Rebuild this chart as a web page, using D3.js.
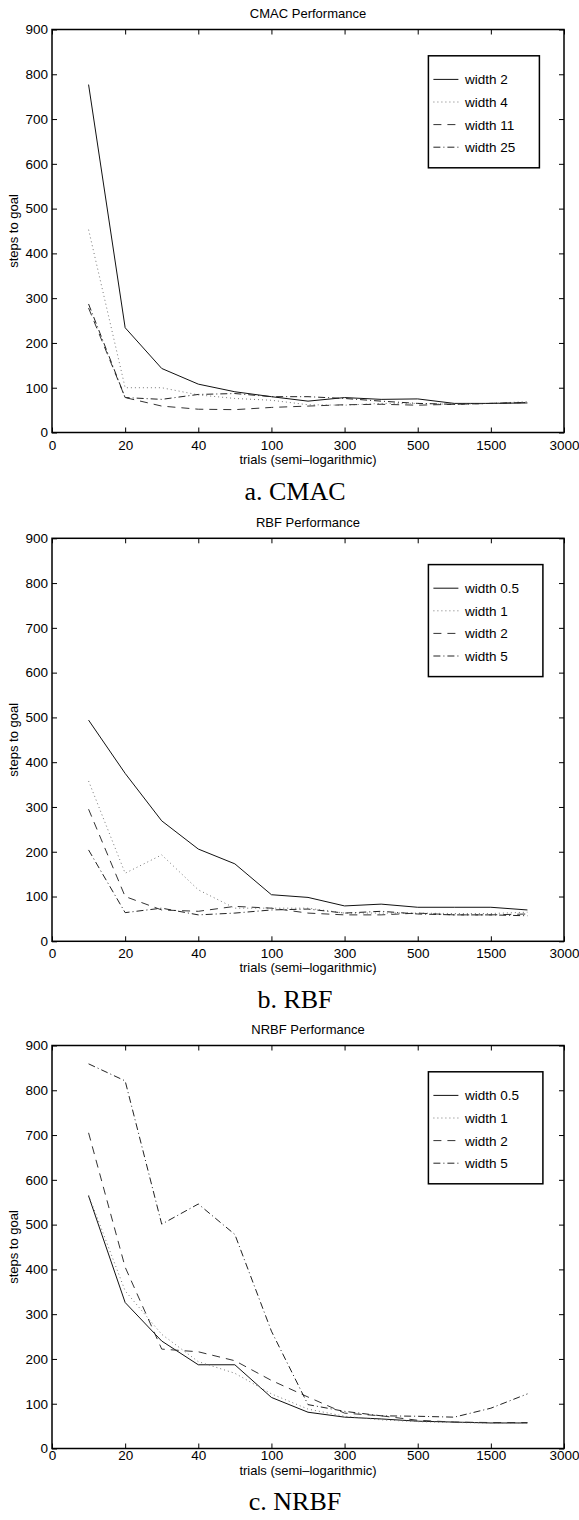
<!DOCTYPE html>
<html lang="en">
<head>
    <meta charset="UTF-8">
    <title>CMAC / RBF / NRBF Performance</title>
    <script src="https://d3js.org/d3.v7.min.js"></script>
    <style>
        body{
            margin: 0;
            background: #ffffff;
        }
        .tick text{
            font-family: "Liberation Sans", Arial, sans-serif;
            font-size: 13.5px;
            fill: #000;
        }
        .tick line{
            stroke: #000;
        }
        .lbl{
            font-family: "Liberation Sans", Arial, sans-serif;
            font-size: 13px;
        }
        .caption{
            font-family: "Liberation Serif", "Times New Roman", serif;
            font-size: 26px;
        }
    </style>
</head>
<body>
    <svg id='fig' width="579" height="1520"></svg>

    <script>
        // trial counts where the curves were sampled (semi-log axis, evenly spaced)
        let trials = [10, 20, 30, 40, 50, 100, 200, 300, 400, 500, 1000, 1500, 2000];
        let tickLabels = ["0", "20", "40", "100", "300", "500", "1500", "3000"];
        let yTicks = [0, 100, 200, 300, 400, 500, 600, 700, 800, 900];

        // CMAC
        let cmacNames = ["width 2", "width 4", "width 11", "width 25"];
        let cmac_w2  = [777, 234, 143, 108, 91, 80, 70, 78, 74, 75, 65, 65, 66];
        let cmac_w4  = [453, 100, 100, 84, 76, 72, 62, 61, 65, 65, 63, 65, 69];
        let cmac_w11 = [278, 78, 59, 52, 51, 56, 59, 62, 63, 61, 63, 65, 67];
        let cmac_w25 = [287, 78, 74, 85, 87, 80, 80, 76, 70, 65, 63, 65, 67];

        // RBF
        let rbfNames = ["width 0.5", "width 1", "width 2", "width 5"];
        let rbf_w05 = [494, 375, 269, 206, 173, 104, 98, 79, 83, 76, 76, 76, 70];
        let rbf_w1  = [358, 152, 193, 115, 74, 74, 74, 63, 63, 63, 62, 62, 65];
        let rbf_w2  = [295, 100, 70, 67, 78, 74, 63, 59, 59, 63, 59, 59, 61];
        let rbf_w5  = [204, 64, 74, 59, 63, 70, 72, 63, 67, 61, 59, 59, 57];

        // NRBF
        let nrbfNames = ["width 0.5", "width 1", "width 2", "width 5"];
        let nrbf_w05 = [564, 326, 240, 187, 187, 114, 81, 70, 66, 61, 59, 57, 57];
        let nrbf_w1  = [566, 352, 255, 194, 168, 122, 88, 72, 64, 60, 58, 57, 57];
        let nrbf_w2  = [705, 405, 222, 216, 196, 152, 115, 79, 73, 63, 59, 58, 58];
        let nrbf_w5  = [859, 821, 501, 546, 478, 262, 98, 83, 73, 72, 70, 90, 122];

        let styles = [
            {stroke: "#111", dash: null, width: 1},
            {stroke: "#777", dash: "1,3", width: 1},
            {stroke: "#333", dash: "8,6", width: 1},
            {stroke: "#222", dash: "7,3,1,3", width: 1}
        ];

        let svg = d3.select("#fig");

        let left = 52, right = 564, plotH = 403;

        // opt: tick label padding, x label offset, caption offset (below the axis)
        function panel(top, title, names, series, caption, legendW, opt){
            let g = svg.append("g");

            let x = d3.scaleLinear().domain([0, 14]).range([left, right]);
            let y = d3.scaleLinear().domain([0, 900]).range([top + plotH, top]);

            // title
            g.append("text")
                .attr("class", "lbl")
                .attr("x", (left + right) / 2)
                .attr("y", top - 11.5)
                .attr("text-anchor", "middle")
                .text(title);

            // axes with inward ticks (matlab style)
            let xTickVals = d3.range(0, 15, 2);
            g.append("g")
                .attr("transform", "translate(0," + (top + plotH) + ")")
                .call(d3.axisBottom(x).tickValues(xTickVals)
                    .tickFormat(function(d, i){ return tickLabels[i]; })
                    .tickSizeInner(-5).tickSizeOuter(0).tickPadding(opt.pad))
                .call(function(a){ a.select(".domain").remove(); });
            g.append("g")
                .attr("transform", "translate(0," + top + ")")
                .call(d3.axisTop(x).tickValues(xTickVals)
                    .tickFormat("").tickSizeInner(-5).tickSizeOuter(0))
                .call(function(a){ a.select(".domain").remove(); });
            g.append("g")
                .attr("transform", "translate(" + left + ",0)")
                .call(d3.axisLeft(y).tickValues(yTicks)
                    .tickSizeInner(-5).tickSizeOuter(0).tickPadding(4))
                .call(function(a){ a.select(".domain").remove(); });
            g.append("g")
                .attr("transform", "translate(" + right + ",0)")
                .call(d3.axisRight(y).tickValues(yTicks)
                    .tickFormat("").tickSizeInner(-5).tickSizeOuter(0))
                .call(function(a){ a.select(".domain").remove(); });

            // box
            g.append("rect")
                .attr("x", left)
                .attr("y", top)
                .attr("width", right - left)
                .attr("height", plotH)
                .attr("fill", "none")
                .attr("stroke", "#000")
                .attr("stroke-width", 1.5);

            // curves
            let line = d3.line()
                .x(function(d, i){ return x(i + 1); })
                .y(function(d){ return y(d); });
            series.forEach(function(s, k){
                g.append("path")
                    .datum(s)
                    .attr("d", line)
                    .attr("fill", "none")
                    .attr("stroke", styles[k].stroke)
                    .attr("stroke-width", styles[k].width)
                    .attr("stroke-dasharray", styles[k].dash);
            });

            // legend
            let lx = 428.4, ly = top + 26.3;
            g.append("rect")
                .attr("x", lx)
                .attr("y", ly)
                .attr("width", legendW)
                .attr("height", 112)
                .attr("fill", "#fff")
                .attr("stroke", "#000")
                .attr("stroke-width", 1.5);
            names.forEach(function(n, k){
                let yy = ly + 23.6 + k * 22.6;
                g.append("line")
                    .attr("x1", lx + 5)
                    .attr("x2", lx + 30)
                    .attr("y1", yy)
                    .attr("y2", yy)
                    .attr("stroke", styles[k].stroke)
                    .attr("stroke-width", styles[k].width)
                    .attr("stroke-dasharray", styles[k].dash);
                g.append("text")
                    .attr("class", "lbl")
                    .attr("x", lx + 36.5)
                    .attr("y", yy + 5)
                    .style("font-size", "13.5px")
                    .text(n);
            });

            // axis labels
            g.append("text")
                .attr("class", "lbl")
                .attr("x", (left + right) / 2)
                .attr("y", top + plotH + opt.xlab)
                .attr("text-anchor", "middle")
                .text("trials (semi\u2013logarithmic)");
            g.append("text")
                .attr("class", "lbl")
                .attr("transform", "translate(18," + (top + plotH / 2) + ") rotate(-90)")
                .attr("text-anchor", "middle")
                .text("steps to goal");

            // caption under the figure
            g.append("text")
                .attr("class", "caption")
                .attr("x", 295)
                .attr("y", top + plotH + opt.cap)
                .attr("text-anchor", "middle")
                .text(caption);
        }

        panel(29.5, "CMAC Performance", cmacNames,
            [cmac_w2, cmac_w4, cmac_w11, cmac_w25], "a. CMAC", 111,
            {pad: 8, xlab: 31, cap: 67.5});
        panel(538.3, "RBF Performance", rbfNames,
            [rbf_w05, rbf_w1, rbf_w2, rbf_w5], "b. RBF", 114.5,
            {pad: 7, xlab: 30.5, cap: 66.5});
        panel(1045.5, "NRBF Performance", nrbfNames,
            [nrbf_w05, nrbf_w1, nrbf_w2, nrbf_w5], "c. NRBF", 114.5,
            {pad: 1.5, xlab: 26, cap: 61.5});
    </script>
</body>
</html>
